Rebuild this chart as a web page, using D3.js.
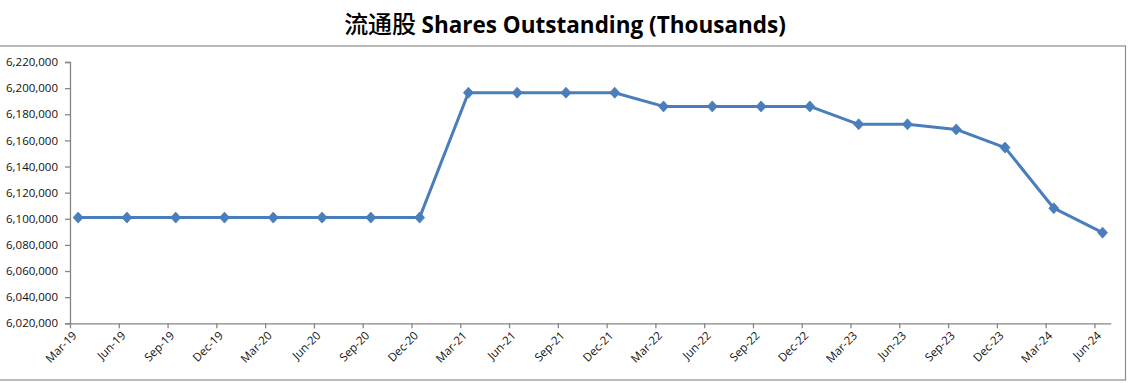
<!DOCTYPE html>
<html>
<head>
<meta charset="utf-8">
<script src="https://cdn.jsdelivr.net/npm/d3@7"></script>
<style>
  html, body { margin: 0; padding: 0; background: #fff; }
  svg { display: block; }
</style>
</head>
<body>
<svg id="chart" width="1129" height="383"></svg>
<script>
// ---- data ----
const categories = ["Mar-19","Jun-19","Sep-19","Dec-19","Mar-20","Jun-20","Sep-20","Dec-20",
  "Mar-21","Jun-21","Sep-21","Dec-21","Mar-22","Jun-22","Sep-22","Dec-22",
  "Mar-23","Jun-23","Sep-23","Dec-23","Mar-24","Jun-24"];
const sharesOutstanding = [6100900,6100900,6100900,6100900,6100900,6100900,6100900,6100900,
  6196500,6196500,6196500,6196500,6186000,6186000,6186000,6186000,
  6172300,6172300,6168400,6154500,6108100,6089400];
const yTicks = [6020000,6040000,6060000,6080000,6100000,6120000,6140000,6160000,6180000,6200000,6220000];
const chartTitleCn = "流通股";
const chartTitleEn = "Shares Outstanding (Thousands)";

// ---- layout ----
(function () {
const svg = d3.select("#chart");
const mLeft = 70, mRight = 1110.7, mTop = 62, mBottom = 323.3;
const monthsSpan = categories.length * 3 - 2; // Mar-19 .. Jun-24 inclusive = 64 months

// frame
svg.append("rect").attr("x", -1).attr("y", 46).attr("width", 1126.5).attr("height", 334)
  .attr("fill", "none").attr("stroke", "#8c8c8c").attr("stroke-width", 1.2);

// title
const t = svg.append("text").attr("x", 565).attr("y", 33).attr("text-anchor", "middle")
  .attr("font-size", 24).attr("fill", "#000");
t.append("tspan").attr("font-family", "'Noto Sans CJK SC', sans-serif").attr("font-weight", 500).text(chartTitleCn + " ");
t.append("tspan").attr("font-family", "'Open Sans', sans-serif").attr("font-weight", 700).attr("font-size", 22.5).text(chartTitleEn);

// scales
const x = d3.scaleLinear().domain([0, monthsSpan]).range([mLeft, mRight]);
const y = d3.scaleLinear().domain([6020000, 6220000]).range([mBottom, mTop]);

// y axis
const yAxis = d3.axisLeft(y).tickValues(yTicks).tickSize(5).tickPadding(7)
  .tickFormat(d3.format(","));
const gy = svg.append("g").attr("transform", `translate(${mLeft},0)`).call(yAxis);
gy.select(".domain").attr("stroke", "#868686").attr("stroke-width", 1.3);
gy.selectAll(".tick line").attr("stroke", "#868686").attr("stroke-width", 1.3);
gy.selectAll(".tick text").attr("font-family", "'Open Sans', sans-serif").attr("font-size", 11.5).attr("fill", "#111");

// x axis (date axis, month base unit, ticks every 3 months)
const tickIdx = categories.map((c, i) => i * 3);
const xAxis = d3.axisBottom(x).tickValues(tickIdx).tickSize(5).tickSizeOuter(0)
  .tickFormat((d) => categories[d / 3]);
const gx = svg.append("g").attr("transform", `translate(0,${mBottom})`).call(xAxis);
gx.select(".domain").attr("stroke", "#868686").attr("stroke-width", 1.3);
gx.selectAll(".tick line").attr("stroke", "#868686").attr("stroke-width", 1.3);
gx.selectAll(".tick text")
  .attr("font-family", "'Open Sans', sans-serif").attr("font-size", 11.5).attr("fill", "#111")
  .attr("text-anchor", "end").attr("dy", null).attr("y", null)
  .attr("transform", "translate(7,13) rotate(-45)");

// line
const pts = sharesOutstanding.map((v, i) => [x(i * 3 + 0.5), y(v)]);
svg.append("path").datum(pts)
  .attr("d", d3.line())
  .attr("fill", "none").attr("stroke", "#4a7ebb").attr("stroke-width", 3)
  .attr("stroke-linejoin", "round");

// diamond markers
svg.append("g").selectAll("path").data(pts).join("path")
  .attr("transform", (d) => `translate(${d[0]},${d[1]})`)
  .attr("d", "M0,-5.5L5,0L0,5.5L-5,0Z")
  .attr("fill", "#4a7ebb").attr("stroke", "#4a7ebb").attr("stroke-width", 0.8);
})();
</script>
</body>
</html>
